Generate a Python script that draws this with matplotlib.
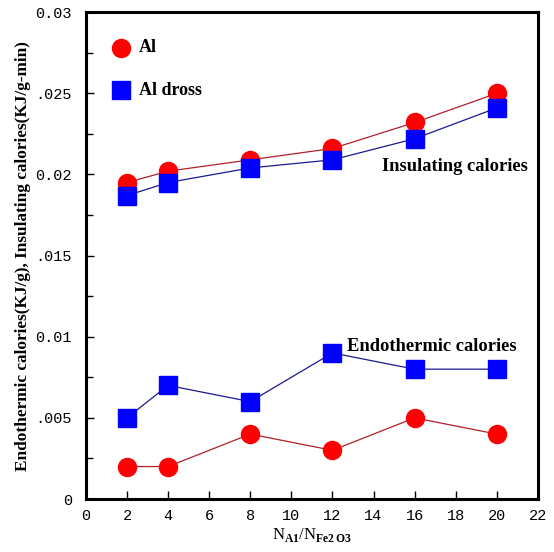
import matplotlib
matplotlib.use('Agg')
import matplotlib.pyplot as plt
from matplotlib.ticker import MultipleLocator, FuncFormatter

# data
ratio = [2, 4, 8, 12, 16, 20]
al_insul = [0.0195, 0.0202, 0.0209, 0.0216, 0.0232, 0.0250]
dross_insul = [0.0187, 0.0195, 0.0204, 0.0209, 0.0222, 0.0241]
al_endo = [0.002, 0.002, 0.004, 0.003, 0.005, 0.004]
dross_endo = [0.005, 0.007, 0.006, 0.009, 0.008, 0.008]

serif = 'Liberation Serif'
mono = 'Liberation Mono'
plt.rcParams['mathtext.fontset'] = 'custom'
plt.rcParams['mathtext.rm'] = 'Liberation Serif:bold'

fig = plt.figure(figsize=(5.54, 5.52), dpi=100)
ax = fig.add_axes([0.155, 0.096, 0.816, 0.882])

red = '#ff0000'
blue = '#0000ff'
for y in (al_insul, al_endo):
    ax.plot(ratio, y, color='#b0202a', lw=0.9, marker='o', ms=13,
            mfc=red, mec=red, zorder=3)
for y in (dross_insul, dross_endo):
    ax.plot(ratio, y, color='#1a1a90', lw=0.9, marker='s', ms=13,
            mfc=blue, mec=blue, zorder=3)

ax.set_xlim(0, 22)
ax.set_ylim(0, 0.03)
ax.xaxis.set_major_locator(MultipleLocator(2))
ax.yaxis.set_major_locator(MultipleLocator(0.005))
ax.yaxis.set_minor_locator(MultipleLocator(0.0025))


def yfmt(v, pos):
    labels = {0: '0', 1: '.005', 2: '0.01', 3: '.015', 4: '0.02', 5: '.025', 6: '0.03'}
    return labels.get(int(round(v / 0.005)), '')


ax.yaxis.set_major_formatter(FuncFormatter(yfmt))
ax.tick_params(direction='in', length=6, width=1, labelsize=11)
ax.tick_params(axis='y', pad=10)
ax.tick_params(axis='x', pad=7)
ax.tick_params(which='minor', direction='in', length=5, width=1)
for lab in ax.get_xticklabels() + ax.get_yticklabels():
    lab.set_fontfamily(mono)
for s in ax.spines.values():
    s.set_linewidth(2.2)

# legend drawn by hand like the original
ax.plot([1.7], [0.0278], 'o', ms=13, mfc=red, mec=red)
ax.plot([1.7], [0.0252], 's', ms=13, mfc=blue, mec=blue)
ax.text(2.6, 0.0278, 'Al', fontfamily=serif, fontweight='bold', fontsize=13, va='center')
ax.text(2.6, 0.0252, 'Al dross', fontfamily=serif, fontweight='bold', fontsize=13, va='center')

ax.text(14.4, 0.0205, 'Insulating calories', fontfamily=serif, fontweight='bold', fontsize=13.3, va='center')
ax.text(12.7, 0.0094, 'Endothermic calories', fontfamily=serif, fontweight='bold', fontsize=13.3, va='center')

ax.set_ylabel('Endothermic calories(KJ/g), Insulating calories(KJ/g-min)',
              fontfamily=serif, fontweight='bold', fontsize=12.4, labelpad=3)
ax.set_xlabel(r'N$_{\mathrm{A1}}$/N$_{\mathrm{Fe2\,O3}}$', fontfamily=serif, fontsize=12, labelpad=2)

fig.savefig('out.png', dpi=100)
